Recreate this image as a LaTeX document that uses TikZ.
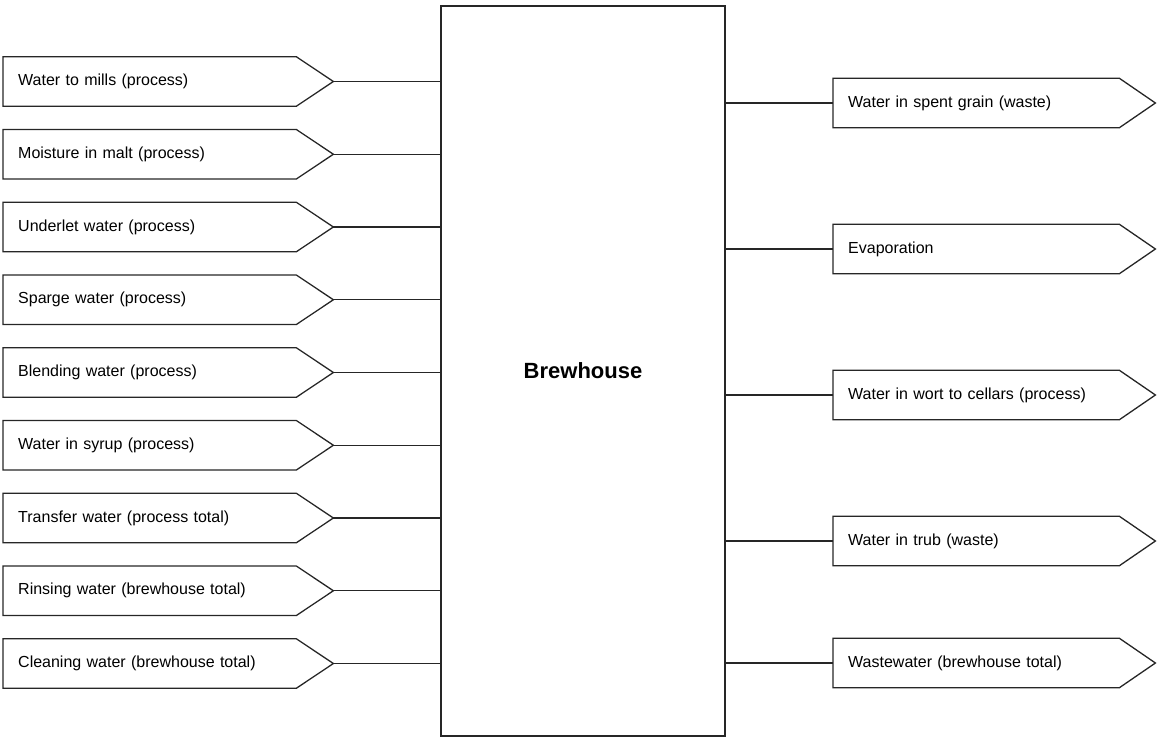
\documentclass[tikz,border=0pt]{standalone}
\usepackage{fontspec}
\setmainfont{Liberation Sans}
\begin{document}
\begin{tikzpicture}[x=1pt,y=-1pt,
  outline/.style={line width=1.3pt, draw=black!85},
  link/.style={line width=1.1pt, draw=black!85},
  flowbox/.style={rectangle, minimum width=330pt, minimum height=49pt,
    inner xsep=15pt, inner ysep=0pt, text width=300pt, align=left,
    font=\fontsize{16}{19}\selectfont, anchor=west},
  mainbox/.style={rectangle, outline, minimum width=284pt, minimum height=730pt,
    font=\fontsize{22}{26}\selectfont\bfseries}]
\useasboundingbox (0,0) rectangle (1164,741);

% central process box
\node[mainbox] (brew) at (583,371) {Brewhouse};

% incoming flows (left)
\foreach \name/\txt [count=\i from 0] in {
    in1/Water to mills (process),
    in2/Moisture in malt (process),
    in3/Underlet water (process),
    in4/Sparge water (process),
    in5/Blending water (process),
    in6/Water in syrup (process),
    in7/Transfer water (process total),
    in8/Rinsing water (brewhouse total),
    in9/Cleaning water (brewhouse total)} {
  \node[flowbox] (\name) at (3,{81.5+72.75*\i}) {\txt};
  \draw[outline] (\name.north west) -- ([xshift=-37pt]\name.north east)
    -- (\name.east) -- ([xshift=-37pt]\name.south east)
    -- (\name.south west) -- cycle;
  \draw[link] (\name.east) -- (\name.east -| brew.west);
}

% outgoing flows (right)
\foreach \name/\txt/\yy in {
    out1/Water in spent grain (waste)/103,
    out2/Evaporation/249,
    out3/Water in wort to cellars (process)/395,
    out4/Water in trub (waste)/541,
    out5/Wastewater (brewhouse total)/663} {
  \node[flowbox, minimum width=322pt, text width=292pt] (\name) at (833,\yy) {\txt};
  \draw[outline] (\name.north west) -- ([xshift=-36pt]\name.north east)
    -- (\name.east) -- ([xshift=-36pt]\name.south east)
    -- (\name.south west) -- cycle;
  \draw[link] (brew.east |- \name.west) -- (\name.west);
}
\end{tikzpicture}
\end{document}
